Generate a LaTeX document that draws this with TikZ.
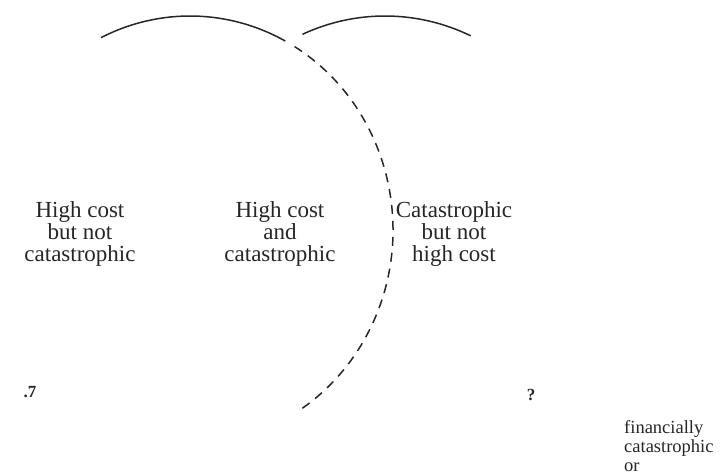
\documentclass[tikz,border=0pt]{standalone}
\usepackage{fontspec}
\setmainfont{Liberation Serif}
\begin{document}
\begin{tikzpicture}[x=1pt,y=-1pt,
  arcline/.style={line width=1.5pt,draw=black!85},
  dashline/.style={arcline,dash pattern=on 9pt off 7pt},
  lbl/.style={align=center,text=black!85,font=\fontsize{23}{22}\selectfont,inner sep=0pt},
  qmark/.style={text=black!85,font=\bfseries\fontsize{17}{17}\selectfont,inner sep=0pt},
  side/.style={align=left,text=black!85,font=\fontsize{18.5}{19}\selectfont,inner sep=0pt,anchor=north west}]
\useasboundingbox (0,0) rectangle (725,476);
\clip (0,0) rectangle (725,476);
\coordinate (cl) at (190,230);
\coordinate (cr) at (385,228);
% left circle: solid top arc and dashed right arc
\draw[arcline] (cl) ++(-116:203 and 214) arc[start angle=-116,end angle=-62,x radius=203,y radius=214];
\draw[dashline] (cl) ++(-59:203 and 214) arc[start angle=-59,end angle=58,x radius=203,y radius=214];
% right circle: solid top arc
\draw[arcline] (cr) ++(-114:203 and 212) arc[start angle=-114,end angle=-65,x radius=203,y radius=212];
\node[lbl] (a) at (80,234) {High cost\\but not\\catastrophic};
\node[lbl] (b) at (280,234) {High cost\\and\\catastrophic};
\node[lbl] (c) at (454,234) {Catastrophic\\but not\\high cost};
\node[qmark] (q1) at (30,392) {.7};
\node[qmark] (q2) at (531,395) {?};
\node[side] (d) at (624,420) {financially\\catastrophic\\or};
\end{tikzpicture}
\end{document}
